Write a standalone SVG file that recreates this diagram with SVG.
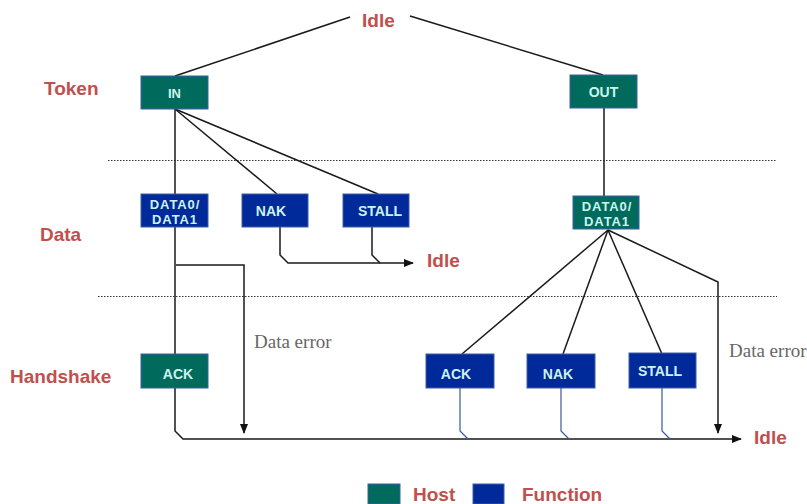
<svg xmlns="http://www.w3.org/2000/svg" width="807" height="504" viewBox="0 0 807 504">
<defs>
<style>
.host{fill:#006A5D;stroke:#3F5FA5;stroke-width:1}
.func{fill:#00299A;stroke:#3F5FA5;stroke-width:1}
.bt{font-family:"Liberation Sans",Arial,sans-serif;font-weight:bold;font-size:14px;fill:#CDF3EE;text-anchor:middle}
.sm{font-size:13px}
.sp{font-size:13px;letter-spacing:0.9px}
.lbl{font-family:"Liberation Sans",Arial,sans-serif;font-weight:bold;font-size:19px;fill:#C0504D}
.err{font-family:"Liberation Serif","Times New Roman",serif;font-size:19px;fill:#666666}
.ln{fill:none;stroke:#1a1a1a;stroke-width:1.5}
.bl{fill:none;stroke:#3A5A9A;stroke-width:1.2}
.dot{stroke:#333;stroke-width:1;stroke-dasharray:1.5 1.5}
</style>
<marker id="arr" markerWidth="10" markerHeight="8" refX="9" refY="4" orient="auto" markerUnits="userSpaceOnUse">
<path d="M0,0 L10,4 L0,8 Z" fill="#111"/>
</marker>
</defs>
<rect width="807" height="504" fill="#ffffff"/>

<g id="labels">
<text class="lbl" x="362" y="27">Idle</text>
<text class="lbl" x="44" y="95">Token</text>
<text class="lbl" x="40" y="241">Data</text>
<text class="lbl" x="10" y="383">Handshake</text>
<text class="lbl" x="427" y="267">Idle</text>
<text class="lbl" x="754" y="444">Idle</text>
<text class="err" x="254" y="348">Data error</text>
<text class="err" x="729" y="357">Data error</text>
</g>

<g id="separators">
<line class="dot" x1="108" y1="160.5" x2="777" y2="160.5"/>
<line class="dot" x1="98" y1="296.5" x2="777" y2="296.5"/>
</g>

<g id="connectors">
<line class="ln" x1="175" y1="76" x2="350" y2="17"/>
<line class="ln" x1="410" y1="16" x2="603" y2="75"/>
<line class="ln" x1="175" y1="109" x2="175" y2="194"/>
<line class="ln" x1="175" y1="109" x2="277" y2="194"/>
<line class="ln" x1="175" y1="109" x2="378" y2="194"/>
<path class="ln" d="M280,227 V255 L288,263 H413" marker-end="url(#arr)"/>
<path class="ln" d="M372,227 V255 L380,263"/>
<line class="ln" x1="175" y1="227" x2="175" y2="354"/>
<path class="ln" d="M176,265 H244 V433" marker-end="url(#arr)"/>
<path class="ln" d="M175,388 V431 L183,439 H741" marker-end="url(#arr)"/>
<line class="ln" x1="604" y1="108" x2="604" y2="196"/>
<line class="ln" x1="608" y1="230" x2="462" y2="354"/>
<line class="ln" x1="608" y1="230" x2="563" y2="354"/>
<line class="ln" x1="608" y1="230" x2="662" y2="354"/>
<path class="ln" d="M608,230 L718,282 V433" marker-end="url(#arr)"/>
<path class="bl" d="M460,388 V431 L468,439"/>
<path class="bl" d="M561,388 V431 L569,439"/>
<path class="bl" d="M662,388 V431 L670,439"/>
</g>

<g id="node-in">
<rect class="host" x="141" y="76" width="67" height="33"/>
<text class="bt sm" x="174.5" y="98">IN</text>
</g>
<g id="node-out">
<rect class="host" x="570" y="75" width="67" height="33"/>
<text class="bt" x="603.5" y="97">OUT</text>
</g>
<g id="node-data-in">
<rect class="func" x="141" y="194" width="67" height="33"/>
<text class="bt sp" x="175" y="209">DATA0/</text>
<text class="bt sp" x="175" y="224">DATA1</text>
</g>
<g id="node-nak-in">
<rect class="func" x="242" y="194" width="66" height="33"/>
<text class="bt" x="271" y="216">NAK</text>
</g>
<g id="node-stall-in">
<rect class="func" x="343" y="194" width="66" height="33"/>
<text class="bt" x="380" y="216">STALL</text>
</g>
<g id="node-ack-in">
<rect class="host" x="141" y="354" width="67" height="34"/>
<text class="bt" x="178" y="379">ACK</text>
</g>
<g id="node-data-out">
<rect class="host" x="573" y="196" width="66" height="33"/>
<text class="bt sp" x="607" y="211">DATA0/</text>
<text class="bt sp" x="607" y="226">DATA1</text>
</g>
<g id="node-ack-out">
<rect class="func" x="426" y="354" width="68" height="34"/>
<text class="bt" x="456" y="379">ACK</text>
</g>
<g id="node-nak-out">
<rect class="func" x="527" y="354" width="68" height="34"/>
<text class="bt" x="558" y="379">NAK</text>
</g>
<g id="node-stall-out">
<rect class="func" x="629" y="353" width="67" height="35"/>
<text class="bt" x="660" y="376">STALL</text>
</g>

<g id="legend">
<rect class="host" x="368" y="484" width="32" height="20"/>
<text class="lbl" x="413" y="501">Host</text>
<rect class="func" x="473" y="484" width="31" height="20"/>
<text class="lbl" x="522" y="501">Function</text>
</g>
</svg>
